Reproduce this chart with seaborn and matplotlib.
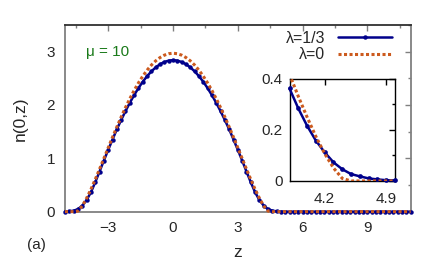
"""Density profile n(0,z) for two lambda values, with an inset on the tail."""

import matplotlib
matplotlib.use("Agg")
import matplotlib.pyplot as plt
import numpy as np
import pandas as pd
import seaborn as sns
from matplotlib.ticker import MultipleLocator

# Half profiles, z = 0, 0.2, ..., 5.0
z_half = [0.0, 0.2, 0.4, 0.6, 0.8, 1.0, 1.2, 1.4, 1.6, 1.8, 2.0, 2.2, 2.4,
          2.6, 2.8, 3.0, 3.2, 3.4, 3.6, 3.8, 4.0, 4.2, 4.4, 4.6, 4.8, 5.0]
n_lam13_half = [2.840, 2.832, 2.806, 2.764, 2.705, 2.630, 2.540, 2.435, 2.316,
                2.184, 2.040, 1.884, 1.718, 1.543, 1.352, 1.158, 0.958, 0.752,
                0.550, 0.362, 0.216, 0.112, 0.046, 0.018, 0.006, 0.002]
n_lam0_half = [2.970, 2.961, 2.934, 2.889, 2.827, 2.748, 2.652, 2.540, 2.413,
               2.272, 2.117, 1.951, 1.773, 1.587, 1.394, 1.196, 0.996, 0.797,
               0.603, 0.418, 0.250, 0.107, 0.010, 0.0, 0.0, 0.0]
# flat tail out to the right edge
z_tail = [5.2, 5.4, 5.6, 5.8, 6.0, 6.2, 6.4, 6.6, 6.8, 7.0, 7.2, 7.4, 7.6, 7.8,
          8.0, 8.2, 8.4, 8.6, 8.8, 9.0, 9.2, 9.4, 9.6, 9.8, 10.0, 10.2, 10.4,
          10.6, 10.8, 11.0]
n_tail = [0.0] * len(z_tail)

# Inset (zoom on the edge of the cloud)
z_inset = [3.8, 3.9, 4.0, 4.1, 4.2, 4.3, 4.4, 4.5, 4.6, 4.7, 4.8, 4.9, 5.0]
n_lam13_inset = [0.362, 0.284, 0.216, 0.158, 0.112, 0.073, 0.046, 0.027,
                 0.018, 0.010, 0.006, 0.003, 0.002]
n_lam0_inset = [0.418, 0.331, 0.250, 0.174, 0.107, 0.051, 0.010, 0.0, 0.0,
                0.0, 0.0, 0.0, 0.0]

BLUE = "#00008b"
ORANGE = "#cc5a1e"
GREEN = "#1a7a1a"
GRAY = "#808080"

# build full profiles (symmetric about z = 0)
z_full = [-z for z in z_half[:0:-1]] + z_half + z_tail
lam13_full = n_lam13_half[:0:-1] + n_lam13_half + n_tail
lam0_full = n_lam0_half[:0:-1] + n_lam0_half + n_tail
main_df = pd.DataFrame({"z": z_full, "lam13": lam13_full, "lam0": lam0_full})
inset_df = pd.DataFrame({"z": z_inset, "lam13": n_lam13_inset, "lam0": n_lam0_inset})

sns.set_style("white")
plt.rcParams["font.family"] = ["Liberation Sans", "DejaVu Sans"]

fig = plt.figure(figsize=(4.36, 2.6), dpi=100)
ax = fig.add_axes([0.149, 0.186, 0.793, 0.718])

sns.lineplot(data=main_df, x="z", y="lam13", ax=ax, color=BLUE, lw=1.8,
             marker="o", markersize=3.2, markeredgewidth=0, label="λ=1/3",
             clip_on=False, zorder=3)
sns.lineplot(data=main_df, x="z", y="lam0", ax=ax, color=ORANGE, lw=2.2,
             linestyle=(0, (1, 0.8)), label="λ=0", clip_on=False, zorder=4)

ax.set_xlim(-5, 11)
ax.set_ylim(0, 3.5)
ax.set_xticks([-3, 0, 3, 6, 9])
ax.xaxis.set_minor_locator(MultipleLocator(1.5))
ax.yaxis.set_major_locator(MultipleLocator(1))
ax.yaxis.set_minor_locator(MultipleLocator(0.5))
ax.tick_params(which="both", direction="in", top=True, right=True, color=GRAY,
               labelsize=11)
ax.tick_params(which="major", length=4, width=1)
ax.tick_params(which="minor", length=2.5, width=1)
ax.tick_params(axis="x", pad=7)
ax.tick_params(axis="y", pad=7)
for name, sp in ax.spines.items():
    sp.set_color("#303030" if name == "top" else GRAY)
    sp.set_linewidth(1.3)

ax.set_xlabel("z", fontsize=12.5, labelpad=7)
ax.set_ylabel("n(0,z)", fontsize=12.5, labelpad=14)
ax.text(0.06, 0.855, "μ = 10", transform=ax.transAxes, color=GREEN,
        fontsize=11, ha="left", va="center")
fig.text(0.062, 0.058, "(a)", fontsize=11, ha="left", va="center")

ax.legend(loc="upper right", bbox_to_anchor=(0.975, 1.02), frameon=False,
          markerfirst=False, handlelength=3.4, handletextpad=0.8,
          labelspacing=0.1, fontsize=11.5, borderaxespad=0.2)

# inset
axi = fig.add_axes([0.664, 0.304, 0.242, 0.393])
axi.set_facecolor("white")
sns.lineplot(data=inset_df, x="z", y="lam13", ax=axi, color=BLUE, lw=1.8,
             marker="o", markersize=3.4, markeredgewidth=0, clip_on=False,
             zorder=3)
sns.lineplot(data=inset_df, x="z", y="lam0", ax=axi, color=ORANGE, lw=2.2,
             linestyle=(0, (1, 0.8)), zorder=4)
axi.set_xlim(3.8, 5.0)
axi.set_ylim(0, 0.4)
axi.set_xticks([4.2, 4.9])
axi.set_yticks([0, 0.2, 0.4])
axi.set_yticklabels(["0", "0.2", "0.4"])
axi.yaxis.set_minor_locator(MultipleLocator(0.1))
axi.tick_params(which="both", direction="in", top=True, right=True,
                color="black", labelsize=11)
axi.tick_params(which="major", length=4, width=1)
axi.tick_params(which="minor", length=2.5, width=1)
axi.tick_params(axis="x", pad=8)
axi.tick_params(axis="y", pad=5)
for sp in axi.spines.values():
    sp.set_color("black")
    sp.set_linewidth(1.0)
axi.set_xlabel("")
axi.set_ylabel("")

fig.savefig("out.png", dpi=100)
